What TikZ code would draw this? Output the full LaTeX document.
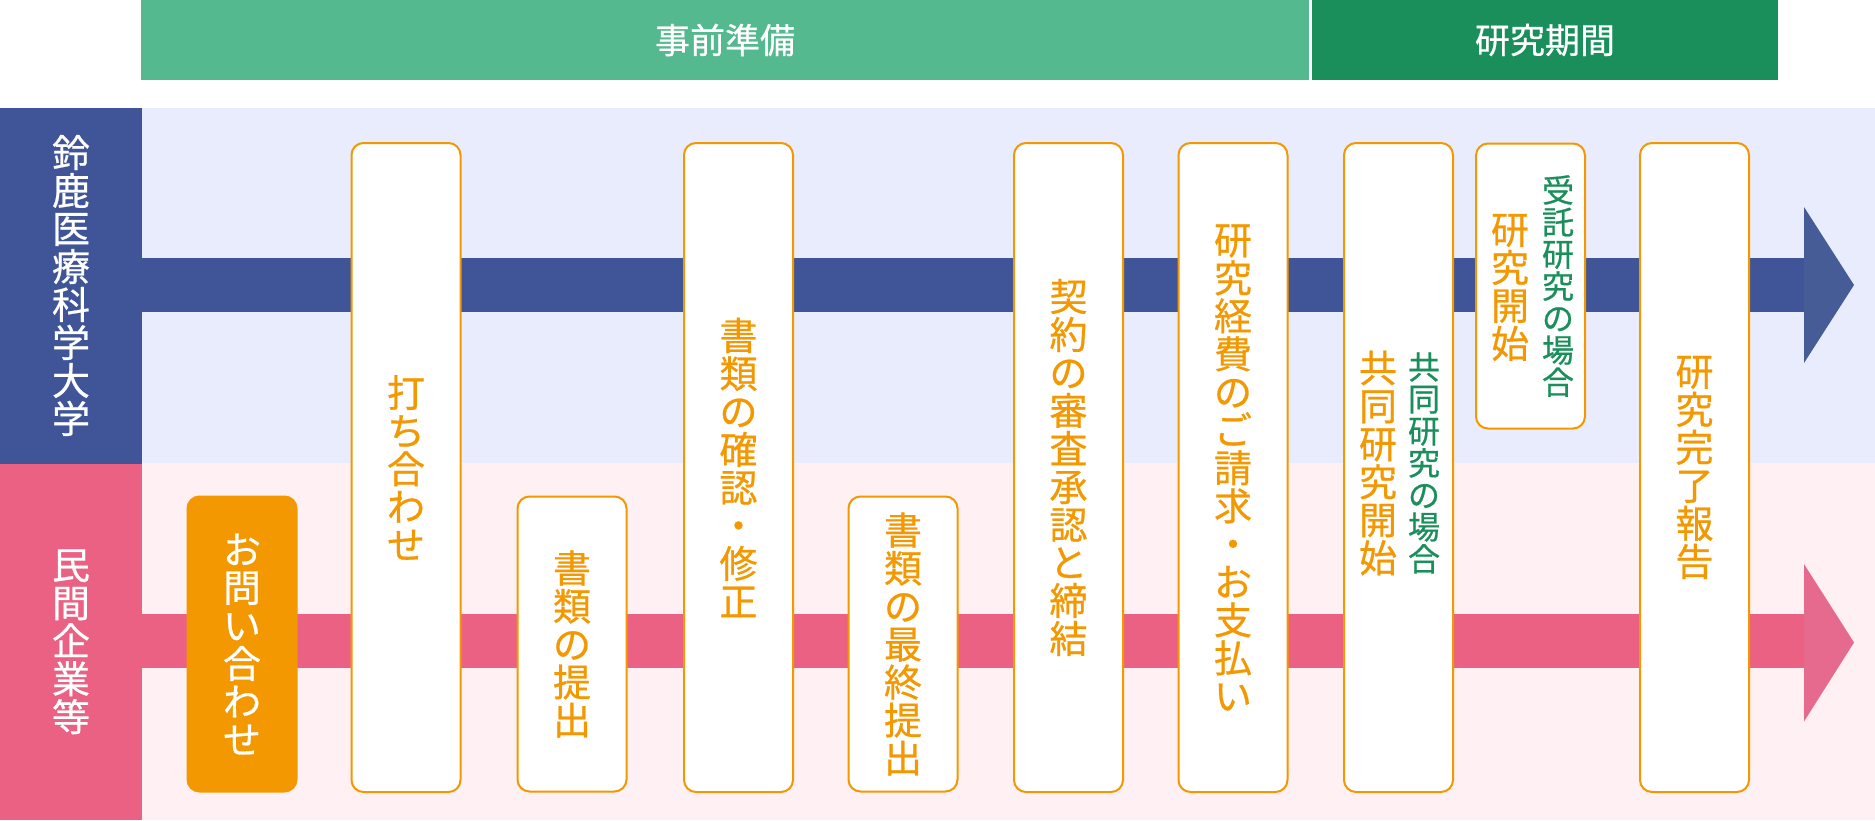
\documentclass[tikz,border=0pt]{standalone}
\usepackage{fontspec}
\setmainfont{Noto Sans CJK JP}[FakeBold=0.6]
\definecolor{hdrlight}{HTML}{54B98E}
\definecolor{hdrdark}{HTML}{1A8F5C}
\definecolor{univblue}{HTML}{3F5597}
\definecolor{univhead}{HTML}{465C96}
\definecolor{univbg}{HTML}{E9ECFC}
\definecolor{corppink}{HTML}{EA6183}
\definecolor{corphead}{HTML}{E56A8E}
\definecolor{corpbg}{HTML}{FFF0F3}
\definecolor{steporange}{HTML}{F39800}
\definecolor{casegreen}{HTML}{1A8F5C}
% vertical text: one character per line
\newcommand\tate[1]{\vbox{\baselineskip=1em\lineskiplimit=-100pt\tateloop#1\relax}}
\def\tateloop#1{\ifx\relax#1\else\hbox to 1em{\hss#1\hss}\expandafter\tateloop\fi}

\begin{document}
\begin{tikzpicture}[x=1pt,y=-1pt]
\tikzstyle{phase}=[text=white,minimum height=80pt,inner sep=0pt,font=\fontsize{35}{35}\selectfont]
\tikzstyle{lane}=[text=white,minimum width=142pt,minimum height=356pt,inner sep=0pt,font=\fontsize{38}{38}\selectfont]
\tikzstyle{card}=[draw=steporange,line width=2pt,rounded corners=12pt,fill=white,text=steporange,minimum width=109pt,inner sep=0pt,font=\fontsize{38}{38}\selectfont]
\tikzstyle{tall}=[minimum height=649pt]
\tikzstyle{low}=[minimum height=295pt]
\tikzstyle{casetext}=[text=casegreen,inner sep=0pt,font=\fontsize{32}{32}\selectfont]
\tikzstyle{starttext}=[text=steporange,inner sep=0pt,font=\fontsize{38}{38}\selectfont]
\useasboundingbox (0,0) rectangle (1875,820);
% header
\node[phase,fill=hdrlight,minimum width=1168pt] (junbi) at (725,40) {事前準備};
\node[phase,fill=hdrdark,minimum width=466pt] (kikan) at (1545,40) {研究期間};
% lanes
\fill[univbg] (142,107.7) rectangle (1875,463.3);
\fill[corpbg] (142,463.3) rectangle (1875,820);
\node[lane,fill=univblue] (univ) at (71,285.5) {\tate{鈴鹿医療科学大学}};
\node[lane,fill=corppink] (corp) at (71,641.7) {\tate{民間企業等}};
% arrows
\fill[univblue] (142,257.7) rectangle (1804,311.7);
\fill[univhead] (1804,207) -- (1854,285) -- (1804,363) -- cycle;
\fill[corppink] (142,614) rectangle (1804,668);
\fill[corphead] (1804,564) -- (1854,642.5) -- (1804,721.5) -- cycle;
% steps
\node[card,low,fill=steporange,text=white] (toiawase) at (242,644) {\tate{お問い合わせ}};
\node[card,tall] (uchiawase) at (406,467.5) {\tate{打ち合わせ}};
\node[card,low] (teishutsu) at (572,644) {\tate{書類の提出}};
\node[card,tall] (kakunin) at (738.5,467.5) {\tate{書類の確認・修正}};
\node[card,low] (saishu) at (903,644) {\tate{書類の最終提出}};
\node[card,tall] (keiyaku) at (1068.5,467.5) {\tate{契約の審査承認と締結}};
\node[card,tall] (keihi) at (1233,467.5) {\tate{研究経費のご請求・お支払い}};
\node[card,tall] (kyodo) at (1398.5,467.5) {};
\node[card,minimum height=285pt] (jutaku) at (1530.5,286) {};
\node[card,tall] (kanryo) at (1694.5,467.5) {\tate{研究完了報告}};
\node[starttext] (kyodo-start) at (1378,463) {\tate{共同研究開始}};
\node[casetext] (kyodo-case) at (1424,463) {\tate{共同研究の場合}};
\node[starttext] (jutaku-start) at (1510,287.5) {\tate{研究開始}};
\node[casetext] (jutaku-case) at (1558,286) {\tate{受託研究の場合}};
\end{tikzpicture}
\end{document}
